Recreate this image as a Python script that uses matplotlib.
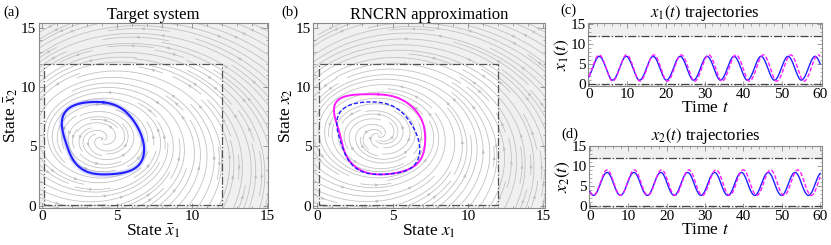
import numpy as np
import matplotlib
matplotlib.use("Agg")
import matplotlib.pyplot as plt
from matplotlib.patches import Rectangle
from matplotlib.ticker import MultipleLocator

# limit cycles (points around the loop)
target_x1 = [4.06, 4.96, 5.63, 6.18, 6.52, 6.79, 6.74, 6.30, 5.63, 4.51, 3.39, 2.50, 1.94, 1.49, 1.34, 1.49, 2.27, 2.94]
target_x2 = [8.74, 8.46, 7.85, 7.00, 6.30, 5.04, 4.20, 3.22, 2.86, 2.66, 2.72, 3.22, 4.20, 5.60, 7.00, 7.90, 8.55, 8.69]
rncrn_x1 = [4.03, 5.14, 6.25, 6.91, 7.18, 7.03, 6.48, 5.37, 4.03, 2.90, 2.26, 1.70, 1.33, 1.20, 1.26, 1.60, 2.48]
rncrn_x2 = [9.44, 9.18, 8.40, 7.28, 5.60, 4.48, 3.36, 2.80, 2.66, 2.95, 3.66, 5.04, 6.72, 8.10, 8.97, 9.10, 9.30]

# rough centre of rotation and oscillation period of each system
target_center = (4.0, 5.6)
rncrn_center = (4.1, 5.9)
target_period = 7.0
rncrn_period = 7.1
x_init = (1.9, 3.7)          # x(0) (c), (d)
t_end = 60

box_lo, box_hi = 0.1, 12.0   # truncated domain (dash-dot box)
phase_ticks = [0, 5, 10, 15]
time_ticks = [0, 10, 20, 30, 40, 50, 60]
ts_ticks = [0, 5, 10, 15]


def smooth_loop(px, py, nh=5, n=600):
    # closed curve through the read points: Fourier fit in arc length
    px = np.array(px)
    py = np.array(py)
    seg = np.hypot(np.diff(np.r_[px, px[0]]), np.diff(np.r_[py, py[0]]))
    s = np.r_[0, np.cumsum(seg)[:-1]] / seg.sum() * 2 * np.pi

    def basis(a):
        cols = [np.ones_like(a)]
        for k in range(1, nh + 1):
            cols += [np.cos(k * a), np.sin(k * a)]
        return np.array(cols).T
    A = basis(s)
    cx = np.linalg.lstsq(A, px, rcond=None)[0]
    cy = np.linalg.lstsq(A, py, rcond=None)[0]
    ss = np.linspace(0, 2 * np.pi, n)
    B = basis(ss)
    return B @ cx, B @ cy


def radius_table(lx, ly, center):
    th = np.arctan2(ly - center[1], lx - center[0])
    r = np.hypot(lx - center[0], ly - center[1])
    order = np.argsort(th)
    return th[order], r[order]


def make_field(center, table, period, k=0.9, c=2.5):
    om = 2 * np.pi / period
    tth, tr = table

    def f(x1, x2):
        u = x1 - center[0]
        v = x2 - center[1]
        r = np.hypot(u, v)
        th = np.arctan2(v, u)
        R = np.interp(th, tth, tr, period=2 * np.pi)
        dr = k * r * (R - r) / (R + c * r)
        dx = dr * np.cos(th) - r * om * np.sin(th)
        dy = dr * np.sin(th) + r * om * np.cos(th)
        return dx, dy
    return f


def simulate(f, x0, t):
    xs = np.zeros((len(t), 2))
    xs[0] = x0
    for i in range(len(t) - 1):
        h = t[i + 1] - t[i]
        x = xs[i]
        k1 = np.array(f(*x))
        k2 = np.array(f(*(x + h / 2 * k1)))
        k3 = np.array(f(*(x + h / 2 * k2)))
        k4 = np.array(f(*(x + h * k3)))
        xs[i + 1] = x + h / 6 * (k1 + 2 * k2 + 2 * k3 + k4)
    return xs


cyc_t = smooth_loop(target_x1, target_x2)
cyc_r = smooth_loop(rncrn_x1, rncrn_x2)
f_t = make_field(target_center, radius_table(*cyc_t, target_center), target_period)
f_r = make_field(rncrn_center, radius_table(*cyc_r, rncrn_center), rncrn_period)

t = np.linspace(0, t_end, 3001)
traj_t = simulate(f_t, x_init, t)
traj_r = simulate(f_r, x_init, t)

plt.rcParams.update({
    "font.family": ["Liberation Serif", "DejaVu Serif"],
    "mathtext.fontset": "stix",
    "font.size": 10,
    "axes.edgecolor": "#8a8a8a",
    "axes.linewidth": 0.8,
})

BG = "#f0f0f0"
SL = "#c2c2c2"
BLUE = "#1f1fff"
MAG = "#ff1aff"

fig = plt.figure(figsize=(8.31, 2.45), dpi=100)
W, H = 831, 245


def add_ax(l, r, top, bot):
    return fig.add_axes([l / W, 1 - bot / H, (r - l) / W, (bot - top) / H])


def style(ax, minor_x, minor_y):
    ax.tick_params(direction="in", which="both", top=True, right=True,
                   labelsize=11, pad=1.5, colors="#8a8a8a", labelcolor="black")
    ax.tick_params(which="major", length=3.5, width=0.6)
    ax.tick_params(which="minor", length=1.8, width=0.5)
    ax.xaxis.set_minor_locator(MultipleLocator(minor_x))
    ax.yaxis.set_minor_locator(MultipleLocator(minor_y))


ax_a = add_ax(38.5, 268.3, 23.3, 207.5)
ax_b = add_ax(313.3, 545, 23.3, 207.5)
ax_c = add_ax(588, 821.7, 23.3, 86)
ax_d = add_ax(589, 821.7, 146, 208)

gx = np.linspace(-0.3, 15.2, 120)
gy = np.linspace(-0.3, 15.5, 120)
GX, GY = np.meshgrid(gx, gy)

for ax, f, title, xl, yl in [
        (ax_a, f_t, "Target system", r"State $\bar{x}_1$", r"State $\bar{x}_2$"),
        (ax_b, f_r, "RNCRN approximation", r"State $x_1$", r"State $x_2$")]:
    ax.set_facecolor(BG)
    ax.add_patch(Rectangle((box_lo, box_lo), box_hi - box_lo, box_hi - box_lo,
                           facecolor="white", edgecolor="none", zorder=0.5))
    U, V = f(GX, GY)
    ax.streamplot(gx, gy, U, V, density=1.5, color=SL, linewidth=0.6,
                  arrowsize=0.4, zorder=1)
    ax.add_patch(Rectangle((box_lo, box_lo), box_hi - box_lo, box_hi - box_lo,
                           facecolor="none", edgecolor="#555555", lw=0.9,
                           ls="-.", zorder=3))
    ax.set_xlim(-0.25, 15.1)
    ax.set_ylim(-0.15, 15.4)
    ax.set_xticks(phase_ticks)
    ax.set_yticks(phase_ticks)
    style(ax, 1, 1)
    ax.set_title(title, fontsize=12, pad=3)
    ax.set_xlabel(xl, fontsize=12.5, labelpad=0)
    ax.set_ylabel(yl, fontsize=12.5, labelpad=1)

ax_a.plot(cyc_t[0], cyc_t[1], color=BLUE, lw=4, alpha=0.15, zorder=4)
ax_a.plot(cyc_t[0], cyc_t[1], color=BLUE, lw=1.5, zorder=5)
ax_b.plot(cyc_r[0], cyc_r[1], color=MAG, lw=1.4, zorder=5)
ax_b.plot(cyc_t[0], cyc_t[1], color=BLUE, lw=1.0, ls=(0, (3, 1.5)), zorder=6)

for ax, i, title, yl in [(ax_c, 0, r"$x_1(t)$ trajectories", r"$x_1(t)$"),
                         (ax_d, 1, r"$x_2(t)$ trajectories", r"$x_2(t)$")]:
    ax.axhspan(box_hi, 20, color=BG, zorder=0)
    ax.axhspan(-2, box_lo, color=BG, zorder=0)
    ax.axhline(box_hi, color="#444444", lw=0.9, ls="-.", zorder=3)
    ax.axhline(box_lo, color="#444444", lw=0.9, ls="-.", zorder=3)
    ax.plot(t, traj_t[:, i], color=BLUE, lw=1.0, zorder=4)
    ax.plot(t, traj_r[:, i], color=MAG, lw=1.0, ls=(0, (3, 1.5)), zorder=5)
    ax.set_xlim(-0.25, 60.4)
    ax.set_ylim(-0.4, 15.1)
    ax.set_xticks(time_ticks)
    ax.set_yticks(ts_ticks)
    style(ax, 2, 1)
    ax.set_title(title, fontsize=12, pad=2)
    ax.set_xlabel(r"Time $t$", fontsize=12.5, labelpad=-1)
    ax.set_ylabel(yl, fontsize=12.5, labelpad=0)

for lab, x, y in [("(a)", 3, 12), ("(b)", 281, 12), ("(c)", 560, 10), ("(d)", 561, 134)]:
    fig.text(x / W, 1 - y / H, lab, fontsize=10.5, va="center", ha="left")

fig.savefig("out.png", dpi=100)
